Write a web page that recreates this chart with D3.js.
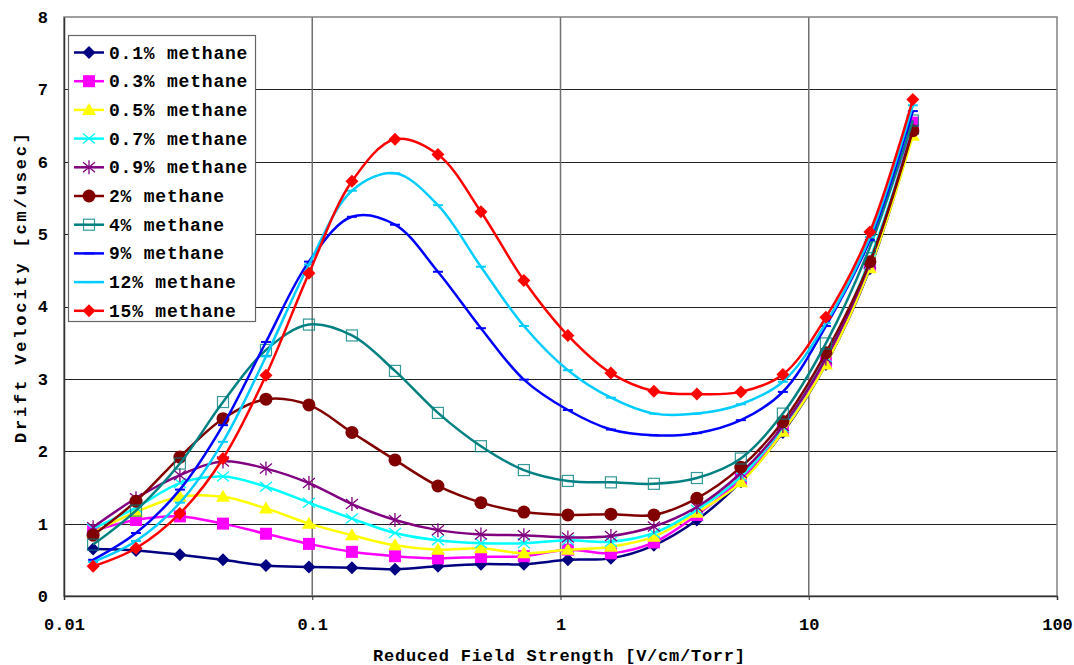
<!DOCTYPE html>
<html>
<head>
<meta charset="utf-8">
<script src="https://cdn.jsdelivr.net/npm/d3@7/dist/d3.min.js"></script>
<style>
  body { margin: 0; background: #fff; }
  svg text { font-family: "Liberation Mono", "Courier New", monospace; font-weight: bold; }
</style>
</head>
<body>
<div id="chart"></div>
<script>
// field strength values (V/cm/Torr), shared by all series
var field = [0.0131, 0.0195, 0.0293, 0.0437, 0.0651, 0.097, 0.1445, 0.2154, 0.3208, 0.478,
             0.712, 1.071, 1.596, 2.378, 3.543, 5.327, 7.866, 11.72, 17.63, 26.26];

var labels = ["0.1% methane", "0.3% methane", "0.5% methane", "0.7% methane", "0.9% methane",
              "2% methane", "4% methane", "9% methane", "12% methane", "15% methane"];

var v01 = [0.65, 0.63, 0.57, 0.50, 0.42, 0.40, 0.39, 0.37, 0.41, 0.44, 0.44, 0.50, 0.52, 0.70, 1.05, 1.58, 2.26, 3.20, 4.52, 6.40];
var v03 = [0.90, 1.05, 1.10, 1.00, 0.86, 0.72, 0.61, 0.55, 0.52, 0.54, 0.55, 0.64, 0.59, 0.74, 1.12, 1.62, 2.30, 3.22, 4.55, 6.54];
var v05 = [0.88, 1.16, 1.37, 1.37, 1.21, 1.00, 0.84, 0.70, 0.64, 0.66, 0.59, 0.64, 0.68, 0.82, 1.15, 1.57, 2.27, 3.20, 4.53, 6.36];
var v07 = [0.93, 1.22, 1.56, 1.65, 1.51, 1.29, 1.07, 0.87, 0.77, 0.73, 0.73, 0.77, 0.75, 0.87, 1.19, 1.65, 2.33, 3.30, 4.65, 6.45];
var v09 = [0.95, 1.35, 1.67, 1.86, 1.76, 1.56, 1.27, 1.05, 0.91, 0.85, 0.84, 0.81, 0.83, 0.96, 1.23, 1.70, 2.35, 3.28, 4.60, 6.45];
var v2  = [0.84, 1.31, 1.92, 2.45, 2.72, 2.64, 2.26, 1.88, 1.52, 1.29, 1.16, 1.12, 1.13, 1.12, 1.35, 1.78, 2.41, 3.36, 4.62, 6.43];
var v4  = [0.71, 1.18, 1.83, 2.68, 3.40, 3.75, 3.60, 3.11, 2.53, 2.07, 1.74, 1.59, 1.57, 1.55, 1.63, 1.90, 2.52, 3.49, 4.82, 6.57];
var v9  = [0.50, 0.87, 1.47, 2.36, 3.51, 4.62, 5.24, 5.13, 4.48, 3.70, 2.99, 2.57, 2.30, 2.22, 2.25, 2.43, 2.82, 3.73, 4.92, 6.70];
var v12 = [0.47, 0.76, 1.29, 2.13, 3.31, 4.58, 5.60, 5.84, 5.40, 4.55, 3.73, 3.12, 2.74, 2.52, 2.52, 2.65, 2.96, 3.77, 4.96, 6.78];
var v15 = [0.41, 0.66, 1.14, 1.90, 3.05, 4.46, 5.73, 6.31, 6.10, 5.31, 4.36, 3.60, 3.08, 2.83, 2.79, 2.82, 3.06, 3.85, 5.03, 6.86];

var seriesValues = [v01, v03, v05, v07, v09, v2, v4, v9, v12, v15];
var colors = ["#000080", "#ff00ff", "#ffff00", "#00ffff", "#800080", "#800000", "#008080", "#0000ff", "#00ccff", "#ff0000"];
var markers = ["diamond", "square", "triangle", "cross", "star", "circle", "opensquare", "dash", "dash", "diamond"];

var xTicks = [0.01, 0.1, 1, 10, 100];
var yTicks = [0, 1, 2, 3, 4, 5, 6, 7, 8];

var width = 1074, height = 665;
var plotLeft = 64, plotRight = 1057, plotTop = 17, plotBottom = 596;

var svg = d3.select('#chart').append('svg')
    .attr('width', width)
    .attr('height', height);

var x_scale = d3.scaleLog().domain([0.01, 100]).range([plotLeft, plotRight]);
var y_scale = d3.scaleLinear().domain([0, 8]).range([plotBottom, plotTop]);

// grid
svg.append('g').selectAll('line')
    .data(yTicks.slice(1, -1))
    .enter().append('line')
    .attr('x1', plotLeft).attr('x2', plotRight)
    .attr('y1', function(d) { return Math.round(y_scale(d)) + 0.5; })
    .attr('y2', function(d) { return Math.round(y_scale(d)) + 0.5; })
    .attr('stroke', '#222').attr('stroke-width', 1);

svg.append('g').selectAll('line')
    .data(xTicks.slice(1, -1))
    .enter().append('line')
    .attr('x1', function(d) { return x_scale(d); })
    .attr('x2', function(d) { return x_scale(d); })
    .attr('y1', plotTop).attr('y2', plotBottom)
    .attr('stroke', '#707070').attr('stroke-width', 1.5);

svg.append('rect')
    .attr('x', plotLeft).attr('y', plotTop)
    .attr('width', plotRight - plotLeft).attr('height', plotBottom - plotTop)
    .attr('fill', 'none').attr('stroke', '#808080').attr('stroke-width', 1.5);

// axes
var x_axis = d3.axisBottom(x_scale).tickValues(xTicks)
    .tickFormat(function(d) { return String(d); })
    .tickSize(4).tickPadding(18);
var gx = svg.append('g')
    .attr('transform', 'translate(0,' + plotBottom + ')')
    .call(x_axis);
gx.select('.domain').attr('stroke', '#333').attr('stroke-width', 1.5);
gx.selectAll('.tick line').attr('stroke', '#333');
gx.selectAll('text').attr('fill', '#000').style('font-size', '17px');

var y_axis = d3.axisLeft(y_scale).tickValues(yTicks).tickSize(0).tickPadding(16);
var gy = svg.append('g')
    .attr('transform', 'translate(' + plotLeft + ',0)')
    .call(y_axis);
gy.select('.domain').attr('stroke', '#333').attr('stroke-width', 1.5);
gy.selectAll('text').attr('fill', '#000').style('font-size', '17px');

svg.append('text')
    .attr('x', 559).attr('y', 661)
    .attr('text-anchor', 'middle')
    .style('font-size', '17px')
    .attr('textLength', 372).attr('lengthAdjust', 'spacing')
    .text('Reduced Field Strength [V/cm/Torr]');

svg.append('text')
    .attr('transform', 'translate(26,288) rotate(-90)')
    .attr('text-anchor', 'middle')
    .style('font-size', '17px')
    .attr('textLength', 310).attr('lengthAdjust', 'spacing')
    .text('Drift Velocity [cm/usec]');

// marker drawing
function drawMarker(g, type, color, cx, cy) {
    if (type === 'diamond') {
        g.append('path').attr('d', 'M0,-6.5L6.5,0L0,6.5L-6.5,0Z')
            .attr('transform', 'translate(' + cx + ',' + cy + ')').attr('fill', color);
    } else if (type === 'square') {
        g.append('rect').attr('x', cx - 6).attr('y', cy - 6).attr('width', 12).attr('height', 12).attr('fill', color);
    } else if (type === 'opensquare') {
        g.append('rect').attr('x', cx - 5.5).attr('y', cy - 5.5).attr('width', 11).attr('height', 11)
            .attr('fill', 'none').attr('stroke', color).attr('stroke-width', 1.2).attr('stroke-opacity', 0.8);
    } else if (type === 'triangle') {
        g.append('path').attr('d', 'M0,-7L7,5L-7,5Z')
            .attr('transform', 'translate(' + cx + ',' + cy + ')').attr('fill', color);
    } else if (type === 'circle') {
        g.append('circle').attr('cx', cx).attr('cy', cy).attr('r', 6.5).attr('fill', color);
    } else if (type === 'cross') {
        g.append('path').attr('d', 'M-6,-5L6,5M-6,5L6,-5')
            .attr('transform', 'translate(' + cx + ',' + cy + ')')
            .attr('stroke', color).attr('stroke-width', 1.3).attr('fill', 'none');
    } else if (type === 'star') {
        g.append('path').attr('d', 'M-6,-5L6,5M-6,5L6,-5M0,-7L0,7')
            .attr('transform', 'translate(' + cx + ',' + cy + ')')
            .attr('stroke', color).attr('stroke-width', 1.3).attr('fill', 'none');
    } else if (type === 'dash') {
        g.append('line').attr('x1', cx - 5).attr('x2', cx + 5).attr('y1', cy).attr('y2', cy)
            .attr('stroke', color).attr('stroke-width', 2);
    }
}

var line = d3.line()
    .x(function(d) { return x_scale(d[0]); })
    .y(function(d) { return y_scale(d[1]); })
    .curve(d3.curveCatmullRom.alpha(0.5));

seriesValues.forEach(function(vals, i) {
    var pts = field.map(function(f, j) { return [f, vals[j]]; });
    var g = svg.append('g');
    g.append('path')
        .datum(pts)
        .attr('fill', 'none')
        .attr('stroke', colors[i])
        .attr('stroke-width', 2.5)
        .attr('d', line);
    pts.forEach(function(p) {
        drawMarker(g, markers[i], colors[i], x_scale(p[0]), y_scale(p[1]));
    });
});

// legend
var legend = svg.append('g').attr('class', 'legend');
legend.append('rect')
    .attr('x', 68.5).attr('y', 35.5).attr('width', 187).attr('height', 286)
    .attr('fill', '#fff').attr('stroke', '#666').attr('stroke-width', 1.2);

labels.forEach(function(lab, i) {
    var yy = 52.5 + i * 28.7;
    legend.append('line')
        .attr('x1', 74).attr('x2', 104).attr('y1', yy).attr('y2', yy)
        .attr('stroke', colors[i]).attr('stroke-width', 2.5);
    drawMarker(legend, markers[i], colors[i], 89, yy);
    legend.append('text')
        .attr('x', 109).attr('y', yy + 6)
        .style('font-size', '18px')
        .attr('textLength', lab.length * 11.7 - 2).attr('lengthAdjust', 'spacing')
        .text(lab);
});
</script>
</body>
</html>
